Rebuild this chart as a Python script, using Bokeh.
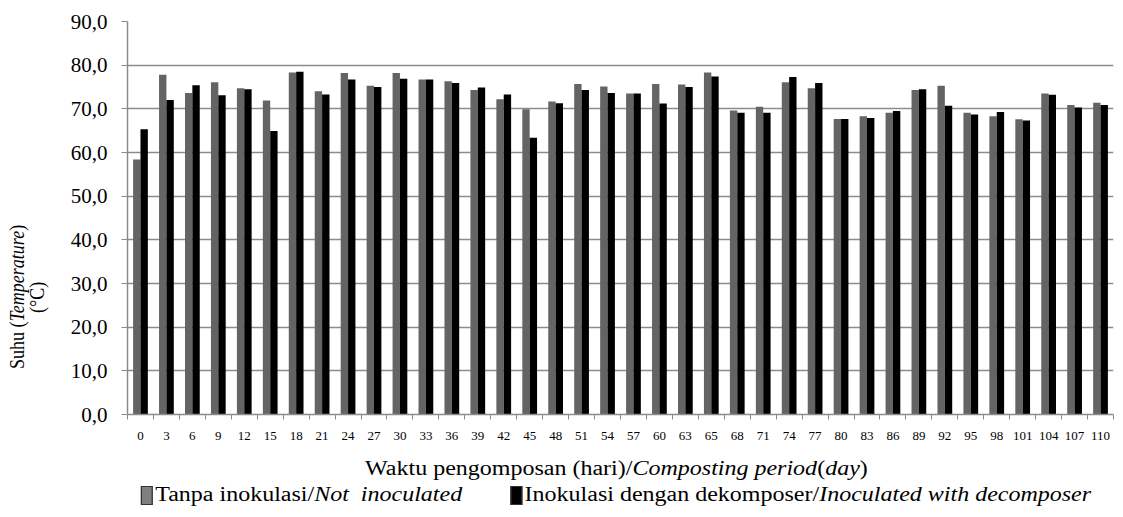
from bokeh.plotting import figure
from bokeh.models import (Range1d, FixedTicker, CustomJSTickFormatter, Div, Spacer,
                          ColumnDataSource)
from bokeh.layouts import row, column
from bokeh.transform import dodge
from bokeh.embed import file_html
from bokeh.resources import INLINE

days = ["0", "3", "6", "9", "12", "15", "18", "21", "24", "27", "30", "33", "36",
        "39", "42", "45", "48", "51", "54", "57", "60", "63", "65", "68", "71",
        "74", "77", "80", "83", "86", "89", "92", "95", "98", "101", "104", "107", "110"]
not_inoculated = [58.4, 77.8, 73.6, 76.1, 74.7, 71.9, 78.3, 74.0, 78.2, 75.3, 78.2, 76.7,
                  76.3, 74.3, 72.2, 69.9, 71.7, 75.7, 75.1, 73.5, 75.7, 75.6, 78.3, 69.6,
                  70.5, 76.1, 74.7, 67.7, 68.3, 69.1, 74.3, 75.3, 69.1, 68.3, 67.6, 73.5,
                  70.9, 71.4]
inoculated = [65.3, 72.0, 75.4, 73.1, 74.5, 64.9, 78.5, 73.3, 76.7, 75.0, 76.9, 76.7,
              75.9, 74.9, 73.3, 63.4, 71.3, 74.3, 73.6, 73.5, 71.2, 75.0, 77.4, 69.1,
              69.1, 77.3, 75.9, 67.7, 67.9, 69.5, 74.5, 70.7, 68.7, 69.3, 67.3, 73.2,
              70.3, 70.9]
y_ticks = [0, 10, 20, 30, 40, 50, 60, 70, 80, 90]

idx = list(range(len(days)))
bounds = [i - 0.5 for i in idx] + [len(days) - 0.5]
source = ColumnDataSource(dict(x=idx, day=days, a=not_inoculated, b=inoculated))

FONT = "Liberation Serif"
GRID = "#8c8c8c"

p = figure(width=1051, height=446, x_range=Range1d(-0.5, len(days) - 0.5),
           y_range=Range1d(0, 90), output_backend="svg", toolbar_location=None,
           min_border_left=58, min_border_right=5, min_border_top=21, min_border_bottom=32)
p.outline_line_color = None
p.background_fill_color = "white"

p.vbar(x=dodge("x", -0.142), top="a", width=0.284, source=source,
       fill_color="#646464", line_color=None)
p.vbar(x=dodge("x", 0.142), top="b", width=0.284, source=source,
       fill_color="#000000", line_color=None)

# y axis
p.yaxis.ticker = FixedTicker(ticks=y_ticks)
p.ygrid.ticker = FixedTicker(ticks=y_ticks)
p.yaxis.formatter = CustomJSTickFormatter(code="return tick.toFixed(1).replace('.', ',');")
p.yaxis.major_label_text_font = FONT
p.yaxis.major_label_text_font_size = "21px"
p.yaxis.major_label_text_color = "black"
p.yaxis.major_tick_out = 6
p.yaxis.major_tick_in = 0
p.yaxis.minor_tick_line_color = None
p.yaxis.major_tick_line_color = GRID
p.yaxis.axis_line_color = GRID
p.yaxis.axis_line_width = 1.5
p.yaxis.major_label_standoff = 14
p.ygrid.grid_line_color = GRID
p.ygrid.grid_line_width = 1.5

# x axis
p.xaxis.ticker = FixedTicker(ticks=idx, minor_ticks=bounds)
p.xaxis.formatter = CustomJSTickFormatter(args=dict(days=days),
                                          code="return days[Math.round(tick)];")
p.xaxis.major_label_text_font = FONT
p.xaxis.major_label_text_font_size = "13px"
p.xaxis.major_label_text_color = "black"
p.xaxis.major_tick_line_color = None
p.xaxis.major_tick_out = 0
p.xaxis.major_tick_in = 0
p.xaxis.minor_tick_line_color = GRID
p.xaxis.minor_tick_out = 5
p.xaxis.minor_tick_in = 0
p.xaxis.axis_line_color = GRID
p.xaxis.axis_line_width = 1.5
p.xaxis.major_label_standoff = 12
p.xgrid.grid_line_color = None

ytitle = Div(text="Suhu (<i>Temperature</i>)<br>(°C)", width=50, height=284,
             styles={"writing-mode": "vertical-rl",
                     "transform": "rotate(180deg) scaleX(1.2)",
                     "text-align": "center", "font-family": "'Liberation Serif', serif",
                     "font-size": "18px", "line-height": "17px", "color": "black"})
left = row(Spacer(width=7, height=10), column(Spacer(width=50, height=150), ytitle))

sw = ("display:inline-block;width:10px;height:19px;border:1px solid #333;"
      "vertical-align:-4px;margin-right:2px;")
line = ("display:inline-block;transform:scaleX(1.2);transform-origin:50% 50%;"
        "position:relative;left:106px;")
bottom_html = (
    "<div style=\"font-family:'Liberation Serif',serif;font-size:20px;line-height:26px;"
    "color:black;padding-top:4px;padding-left:109px;text-align:center;white-space:nowrap;\">"
    f"<div><span style='{line}'>Waktu pengomposan (hari)/<i>Composting period</i>(<i>day</i>)</span></div>"
    f"<div><span style='{line}'>"
    f"<span style='{sw}background:#7f7f7f;'></span>Tanpa inokulasi/<i>Not&nbsp; inoculated</i>"
    "<span style='display:inline-block;width:40px;'></span>"
    f"<span style='{sw}background:#000;'></span>Inokulasi dengan dekomposer/<i>Inoculated with decomposer</i>"
    "</span></div></div>"
)
bdiv = Div(text=bottom_html, width=1100, height=63,
           styles={"font-family": "'Liberation Serif', serif"})

layout = column(row(left, p), bdiv)

with open("out.html", "w") as f:
    f.write(file_html(layout, INLINE))
